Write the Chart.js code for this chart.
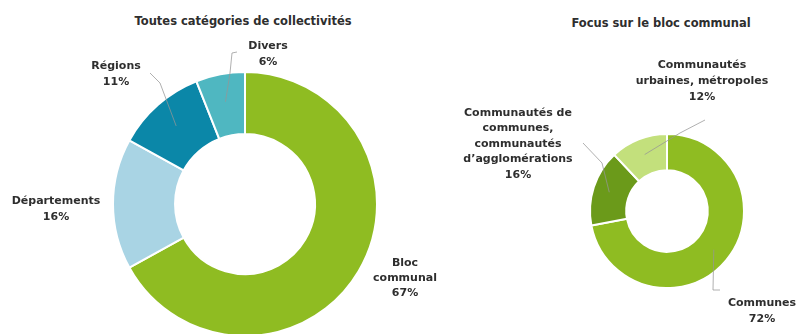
<!DOCTYPE html>
<html lang="fr">
<head>
<meta charset="utf-8">
<title>Répartition par catégorie de collectivités</title>
<script src="https://cdn.jsdelivr.net/npm/chart.js@4.4.1/dist/chart.umd.min.js"></script>
<style>
  html, body { margin: 0; padding: 0; background: #fff; overflow: hidden; }
  body { width: 798px; height: 334px; position: relative; font-family: "DejaVu Sans", sans-serif; }
  .box { position: absolute; }
  .title { position: absolute; font-weight: bold; font-size: 11.5px; color: #2e2e2e; transform: translateX(-50%); white-space: nowrap; }
</style>
</head>
<body>
<div class="title" style="left:243px; top:14px;">Toutes catégories de collectivités</div>
<div class="title" style="left:661px; top:16px;">Focus sur le bloc communal</div>
<div class="box" style="left:420px; top:0; width:378px; height:334px;"><canvas id="blocChart"></canvas></div>
<div class="box" style="left:0; top:0; width:480px; height:350px;"><canvas id="allChart"></canvas></div>
<script>
// Toutes catégories
const allLabels = [['Bloc', 'communal'], ['Départements'], ['Régions'], ['Divers']];
const allValues = [67, 16, 11, 6];

// Bloc communal
const blocLabels = [['Communes'], ['Communautés de', 'communes,', 'communautés', 'd’agglomérations'], ['Communautés', 'urbaines, métropoles']];
const blocValues = [72, 16, 12];

const allColors = ['#8fbc22', '#a9d4e4', '#0b87a8', '#4fb7c1'];
const blocColors = ['#8fbc22', '#6b9a1a', '#c3e07c'];

// label placement relative to the ring centre, plus leader lines
// (line starts inside the slice at its mid angle, then follows the given points)
const allLabelPos = [
  { dx: 160, dy: 59, lh: 15 },
  { dx: -189, dy: -3, lh: 16 },
  { dx: -129, dy: -138, lh: 16, line: [[-85, -121], [-95, -131]] },
  { dx: 23, dy: -158, lh: 16, line: [[-15, -131], [-13, -151], [-8, -152]] }
];
const blocLabelPos = [
  { dx: 95, dy: 92, lh: 16, line: [[46, 79], [53, 79]] },
  { dx: -149, dy: -98, lh: 15.5, line: [[-65, -48], [-84, -68]] },
  { dx: 35, dy: -146, lh: 16, line: [[13, -78], [38, -91]] }
];

const labelPlugin = {
  id: 'sliceLabels',
  afterDatasetsDraw(chart, args, opts) {
    const ctx = chart.ctx;
    const meta = chart.getDatasetMeta(0);
    const values = chart.data.datasets[0].data;
    ctx.save();
    meta.data.forEach((arc, i) => {
      const p = opts.positions[i];
      const cx = arc.x, cy = arc.y;
      if (p.line) {
        const mid = (arc.startAngle + arc.endAngle) / 2;
        const r = arc.innerRadius + (arc.outerRadius - arc.innerRadius) * 0.55;
        ctx.beginPath();
        ctx.moveTo(cx + Math.cos(mid) * r, cy + Math.sin(mid) * r);
        p.line.forEach(pt => ctx.lineTo(cx + pt[0], cy + pt[1]));
        ctx.strokeStyle = 'rgba(150,150,150,0.75)';
        ctx.lineWidth = 1;
        ctx.stroke();
      }
      const lines = chart.data.labels[i].concat([values[i] + '%']);
      ctx.fillStyle = '#2e2e2e';
      ctx.font = 'bold 11px "DejaVu Sans", sans-serif';
      ctx.textAlign = 'center';
      ctx.textBaseline = 'middle';
      lines.forEach((t, k) => ctx.fillText(t, cx + p.dx, cy + p.dy + k * p.lh));
    });
    ctx.restore();
  }
};

function ring(id, labels, values, colors, positions, padding) {
  return new Chart(document.getElementById(id), {
    type: 'doughnut',
    data: {
      labels: labels,
      datasets: [{
        data: values,
        backgroundColor: colors,
        borderColor: '#ffffff',
        borderWidth: 2
      }]
    },
    options: {
      responsive: true,
      maintainAspectRatio: false,
      animation: false,
      cutout: '53%',
      events: [],
      layout: { padding: padding },
      plugins: {
        legend: { display: false },
        tooltip: { enabled: false },
        sliceLabels: { positions: positions }
      }
    },
    plugins: [labelPlugin]
  });
}

ring('allChart', allLabels, allValues, allColors, allLabelPos, { left: 112, right: 102, top: 71, bottom: 13 });
ring('blocChart', blocLabels, blocValues, blocColors, blocLabelPos, { left: 169, right: 53, top: 133, bottom: 45 });
</script>
</body>
</html>
